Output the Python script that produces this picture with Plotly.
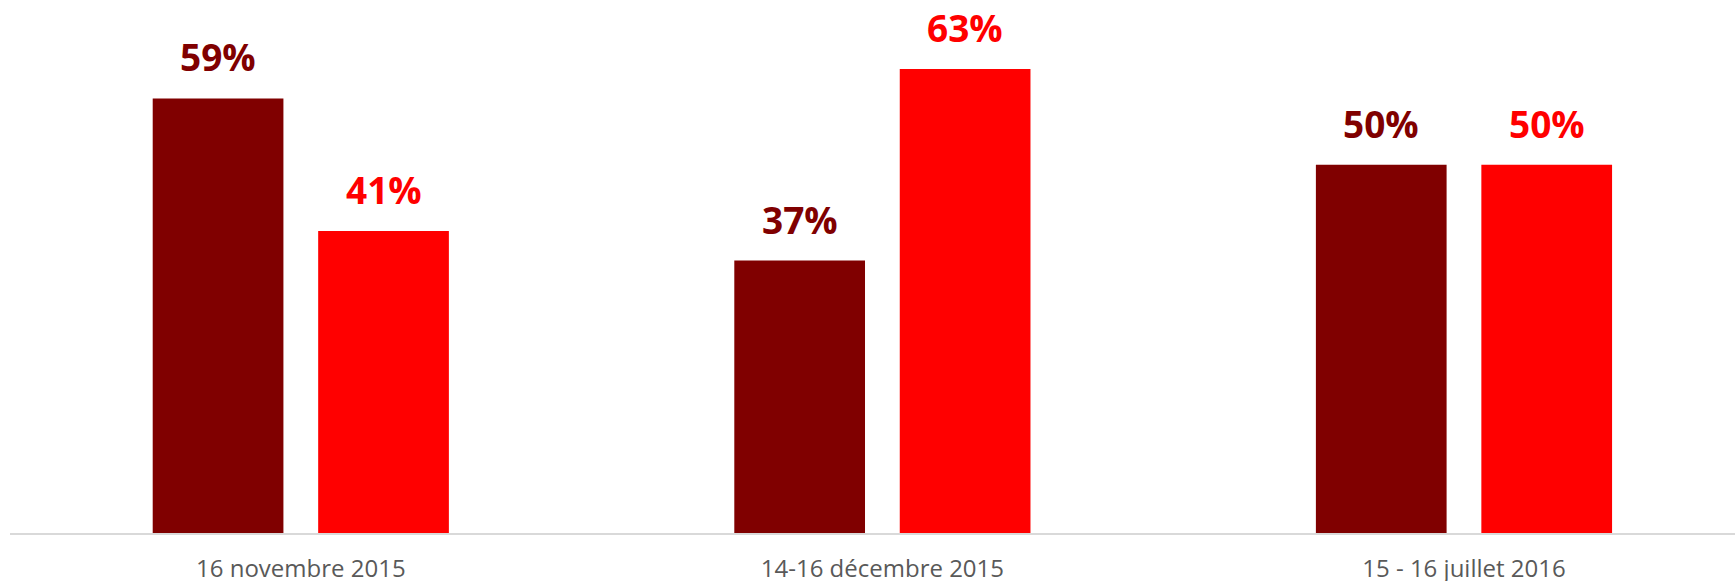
import plotly.graph_objects as go

categories = ["16 novembre 2015", "14-16 décembre 2015", "15 - 16 juillet 2016"]
series_a = [59, 37, 50]
series_b = [41, 63, 50]
colors = ["#800000", "#FF0000"]

bargap = 0.431
bargroupgap = 0.21

fig = go.Figure()
fig.add_bar(x=categories, y=series_a, marker_color=colors[0], marker_line_width=0, name="A")
fig.add_bar(x=categories, y=series_b, marker_color=colors[1], marker_line_width=0, name="B")

half_slot = (1 - bargap) / 4
for s_idx, (vals, col) in enumerate([(series_a, colors[0]), (series_b, colors[1])]):
    off = -half_slot if s_idx == 0 else half_slot
    for i, v in enumerate(vals):
        fig.add_annotation(
            x=i + off, y=v, xref="x", yref="y",
            text=f"<b>{v}%</b>", showarrow=False,
            yanchor="bottom", yshift=14,
            font=dict(family="Open Sans", size=37, color=col),
        )

fig.update_layout(
    width=1735, height=581,
    margin=dict(l=10, r=0, t=0, b=48),
    paper_bgcolor="white", plot_bgcolor="white",
    barmode="group", bargap=bargap, bargroupgap=bargroupgap,
    showlegend=False,
    xaxis=dict(
        type="category", range=[-0.5, 2.466], automargin=False,
        showline=True, linecolor="#d9d9d9", linewidth=2,
        showgrid=False, ticks="", zeroline=False,
        tickfont=dict(family="Open Sans", size=24, color="#595959"),
        ticklabelstandoff=13,
    ),
    yaxis=dict(range=[0, 72.37], visible=False, showgrid=False, zeroline=False,
               automargin=False),
)

fig.write_html(
    "out.html",
    config={"displayModeBar": False},
    post_script="document.body.style.margin='0px';document.body.style.overflow='hidden';",
)
